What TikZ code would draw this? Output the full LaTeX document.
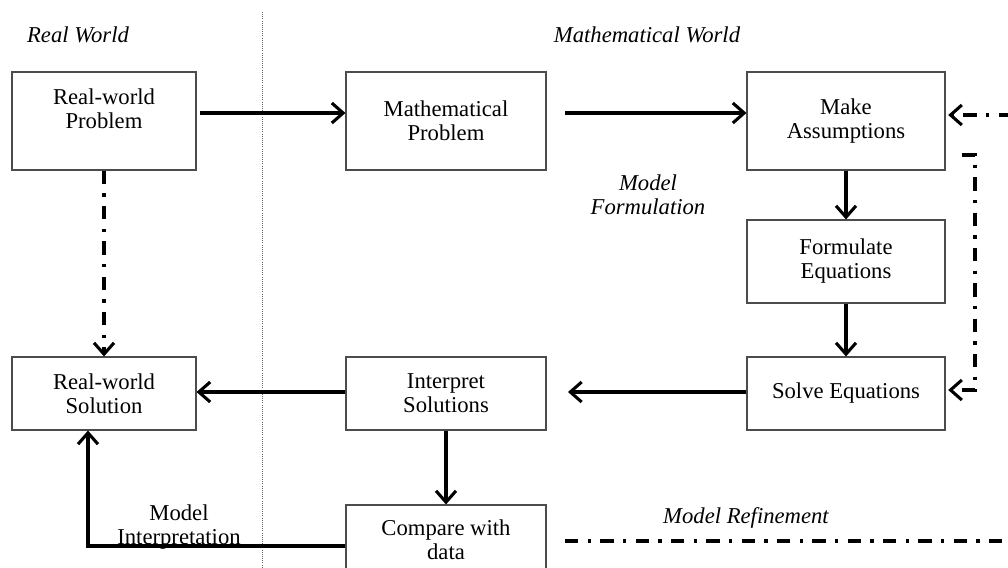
\documentclass[tikz,border=0pt]{standalone}
\usepackage{fontspec}
\setmainfont{Liberation Serif}
\usetikzlibrary{arrows.meta}
\begin{document}
\begin{tikzpicture}[x=0.75pt,y=-0.75pt,
  box/.style={draw=black!70,line width=0.8pt,inner sep=0pt,align=center,font=\fontsize{17}{18}\selectfont},
  lbl/.style={align=center,font=\fontsize{17}{18}\selectfont\itshape},
  txt/.style={align=center,font=\fontsize{17}{18}\selectfont},
  arr/.style={line width=2.5pt,-{Straight Barb[length=8.5pt,width=15pt,line width=2.3pt]}},
  dd/.style={line width=2.5pt,dash pattern=on 10pt off 7pt on 2.5pt off 7pt},
  dda/.style={dd,-{Straight Barb[length=8.5pt,width=15pt,line width=2.3pt]}}]
\useasboundingbox (0,0) rectangle (1008,568);
% separator
\draw[black!60,line width=0.6pt,densely dotted] (262,12) -- (262,568);
% titles
\node[lbl] (trw) at (78,35) {Real World};
\node[lbl] (tmw) at (647,35) {Mathematical World};
% boxes
\node[box,minimum width=138pt,minimum height=73.5pt] (rwp) at (104,121) {};
\node[txt] (rwpt) at (104,109) {Real-world\\Problem};
\node[box,minimum width=150pt,minimum height=73.5pt] (mp) at (446,121) {Mathematical\\Problem};
\node[box,minimum width=148.5pt,minimum height=73.5pt] (ma) at (846,121) {Make\\Assumptions};
\node[box,minimum width=148.5pt,minimum height=62.25pt] (fe) at (846,261.5) {Formulate\\Equations};
\node[box,minimum width=148.5pt,minimum height=54.75pt] (se) at (846,393.5) {Solve Equations};
\node[box,minimum width=150pt,minimum height=54.75pt] (is) at (446,393.5) {Interpret\\Solutions};
\node[box,minimum width=138pt,minimum height=54.75pt] (rws) at (104,393.5) {Real-world\\Solution};
\node[box,minimum width=150pt,minimum height=67.5pt] (cd) at (446,550) {};
\node[txt] (cdt) at (446,540) {Compare with\\data};
% labels
\node[lbl] (mf) at (648,195) {Model\\Formulation};
\node[lbl] (mr) at (746,518) {Model Refinement};
\node[txt] (mi) at (179,527) {Model\\Interpretation};
% coordinates
\coordinate (a1) at (200,113);
\coordinate (a2) at (565,113);
\coordinate (b1) at (568,392);
\coordinate (ci) at (88,546);
\coordinate (mrs) at (565,541);
\coordinate (mre) at (1012,541);
\coordinate (mrt) at (1012,115);
\coordinate (ls) at (962,155);
\coordinate (lc1) at (975,155);
\coordinate (lc2) at (975,390);
% arrows
\draw[arr] (a1) -- (mp.west |- a1);
\draw[arr] (a2) -- (ma.west |- a2);
\draw[arr] (ma.south) -- (fe.north);
\draw[arr] (fe.south) -- (se.north);
\draw[arr] (se.west |- b1) -- (b1);
\draw[arr] (is.west |- b1) -- (rws.east |- b1);
\draw[arr] (is.south) -- (cd.north);
\draw[arr] (cd.west |- ci) -- (ci) -- (rws.south -| ci);
\draw[dda] (rwp.south) -- (rws.north);
\draw[dd] (mrs) -- (mre) -- (mrt);
\draw[dda] (mrt) -- ([xshift=2pt]ma.east |- mrt);
\draw[dda] (ls) -- (lc1) -- (lc2) -- ([xshift=2pt]se.east |- lc2);
\end{tikzpicture}
\end{document}
